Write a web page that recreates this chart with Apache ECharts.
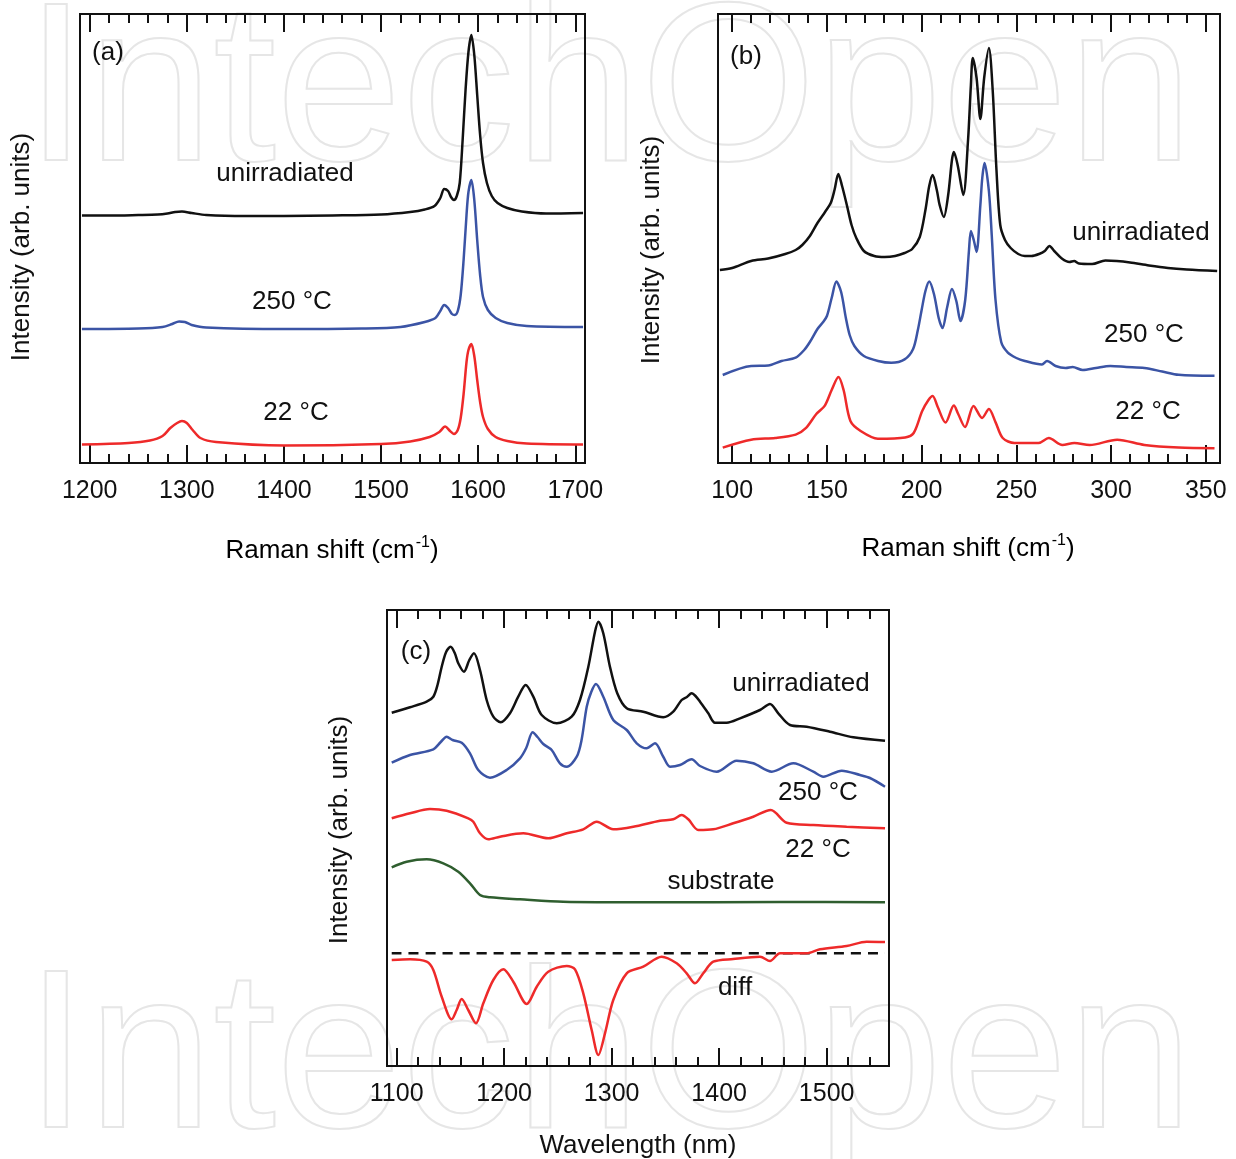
<!DOCTYPE html>
<html>
<head>
<meta charset="utf-8">
<script src="https://cdn.jsdelivr.net/npm/echarts@6/dist/echarts.min.js"></script>
<style>
  html, body { margin: 0; padding: 0; background: #fff; }
  #chart { width: 1236px; height: 1159px; }
</style>
</head>
<body>
<div id="chart"></div>
<script>
// panel (a): Raman shift 1190-1710 cm-1, intensity in arbitrary units
const aMajorTicks = [1200, 1300, 1400, 1500, 1600, 1700]
const aMinorTicks = [1200, 1220, 1240, 1260, 1280, 1300, 1320, 1340, 1360, 1380, 1400, 1420, 1440, 1460, 1480, 1500, 1520, 1540, 1560, 1580, 1600, 1620, 1640, 1660, 1680, 1700]
const aUnirradiated = [[1192, 247.5], [1220, 247.5], [1250, 248], [1270, 248.5], [1280, 249.5], [1288, 251], [1295, 251.5], [1305, 250], [1320, 248], [1360, 247], [1400, 247], [1450, 247.5], [1500, 248.5], [1530, 251], [1545, 253.5], [1555, 257], [1561, 265], [1565, 274], [1569, 272], [1572, 266], [1575, 263], [1578, 267], [1581, 280], [1584, 323], [1587, 373], [1590, 411], [1593, 428], [1596, 408], [1599, 368], [1602, 328], [1605, 300], [1609, 280], [1614, 267], [1620, 260], [1630, 255], [1645, 251.5], [1670, 249.5], [1708, 250]]
const a250C = [[1192, 134], [1250, 134.5], [1275, 136], [1285, 139], [1292, 141.5], [1298, 141], [1305, 138], [1320, 135.5], [1400, 134], [1480, 134.5], [1520, 136], [1545, 141], [1556, 145], [1561, 152], [1565, 158], [1569, 155], [1573, 149], [1576, 148], [1579, 152], [1582, 168], [1585, 203], [1588, 248], [1590, 271], [1593, 283], [1596, 263], [1599, 223], [1602, 188], [1605, 166], [1610, 153], [1618, 145], [1630, 140], [1650, 137], [1708, 136]]
const a22C = [[1192, 18.5], [1240, 20], [1262, 22.5], [1275, 27], [1283, 35], [1290, 40], [1295, 42], [1300, 40], [1306, 33], [1314, 25], [1330, 21], [1400, 17.5], [1500, 19], [1530, 21.5], [1550, 26], [1560, 31], [1566, 36.5], [1571, 32], [1575, 29], [1579, 33], [1582, 45], [1585, 69], [1588, 101], [1590, 113], [1593, 119], [1596, 107], [1599, 83], [1602, 61], [1605, 46], [1610, 34], [1618, 26], [1630, 22], [1650, 19.5], [1708, 18.5]]

// panel (b): Raman shift 92.5-357.5 cm-1
const bMajorTicks = [100, 150, 200, 250, 300, 350]
const bMinorTicks = [100, 110, 120, 130, 140, 150, 160, 170, 180, 190, 200, 210, 220, 230, 240, 250, 260, 270, 280, 290, 300, 310, 320, 330, 340, 350]
const bUnirradiated = [[93.5, 193], [100, 195], [110, 202], [119, 204.5], [128, 209], [133.5, 213], [137, 218], [141, 227], [145, 240], [149, 251], [152, 260], [154, 273], [156, 289], [158, 277], [160.5, 258], [163, 238], [165.5, 225], [169.5, 212], [175, 207], [180.5, 206], [186, 207], [191, 210], [195, 214], [199, 226], [202, 253], [204, 277], [205.8, 288], [208, 273], [209.5, 258], [211.7, 246], [214, 268], [216, 303], [217, 311], [219, 298], [222, 268], [224.5, 323], [226, 378], [227, 405], [229, 385], [231, 344], [233, 385], [235.5, 415], [237.5, 373], [239.5, 293], [241.5, 238], [244, 223], [247, 215], [251, 209], [254.5, 207], [258, 207], [262, 209], [265, 212], [267.5, 217], [270, 212], [274, 204.5], [278, 201], [280.5, 202], [283, 199.5], [290, 199], [297, 202.5], [303, 202], [310, 200.5], [320, 197.5], [330, 195], [340, 193.5], [356, 192]]
const b250C = [[95, 88], [110, 97], [119, 97.4], [126, 102], [133.5, 105.3], [138, 113], [141, 121], [145, 134], [148, 141], [150, 147], [152.5, 165], [155, 181.5], [157.5, 171], [160, 145], [162, 128], [164.5, 117], [169.5, 107], [177, 102], [184, 100.2], [191, 103.6], [195.5, 114], [198, 133], [200, 153], [202, 172], [204, 181.5], [206.5, 169], [209, 145], [211, 135], [213.5, 156], [216, 174], [218.3, 162], [220.5, 142], [223, 163], [225, 213], [226, 232], [227.5, 223], [229, 211], [231, 258], [232, 285], [233.2, 300], [235.5, 272], [237, 228], [239, 163], [242, 121], [245.5, 110.4], [250, 105], [254.5, 102], [263.5, 98.5], [266.2, 102], [270.7, 97], [276, 95], [279.7, 96], [285, 93], [292, 95], [299.6, 97], [308, 96], [317.6, 95], [327, 91.5], [335.7, 88.2], [354.6, 87.2]]
const b22C = [[95, 15.4], [110, 23.3], [122.7, 25], [133.5, 28.4], [139, 35.2], [144.4, 49], [148.9, 57.4], [152.5, 73], [156.1, 86], [158.8, 73], [162.4, 42], [167.8, 32], [176.9, 24.3], [191.3, 25.6], [195.8, 30], [200.3, 52], [203.6, 63], [205.8, 67], [208.5, 56], [212.6, 40.4], [217, 57.4], [219.3, 49], [222.9, 36], [227.4, 57], [231.9, 45], [235.5, 54], [239.1, 40.4], [242.8, 25], [249, 20], [261.7, 20], [267.1, 25], [274.3, 18], [280.6, 20], [288.7, 18], [303.2, 23.3], [317.6, 18], [335.7, 15.4], [354.6, 14.7]]

// panel (c): wavelength 1091-1558 nm
const cMajorTicks = [1100, 1200, 1300, 1400, 1500]
const cMinorTicks = [1100, 1120, 1140, 1160, 1180, 1200, 1220, 1240, 1260, 1280, 1300, 1320, 1340, 1360, 1380, 1400, 1420, 1440, 1460, 1480, 1500, 1520, 1540]
const cUnirradiated = [[1095.4, 353.3], [1112.4, 358.7], [1127.9, 364.3], [1134.1, 369.3], [1138, 381], [1141.9, 399.3], [1146, 414], [1150.2, 419.3], [1154, 413], [1157.3, 402.7], [1162.6, 394.3], [1167.6, 406], [1171.9, 412.7], [1177.5, 396], [1183.7, 366], [1189.9, 349.3], [1196.8, 343.7], [1205.4, 352.7], [1213.1, 369.3], [1220, 381], [1227.1, 369.3], [1234.9, 351], [1248.9, 342.7], [1262.8, 349.3], [1270.5, 366], [1278.3, 399.3], [1284.5, 434.3], [1287.6, 444.3], [1292.2, 432.7], [1298.4, 399.3], [1305.2, 372.7], [1314, 357.7], [1329.4, 354.3], [1348, 348.7], [1357.3, 354.3], [1365.1, 366], [1370, 369], [1374.4, 372.7], [1378, 370], [1382.2, 364.3], [1389.9, 352.7], [1396.1, 343.3], [1407, 343.3], [1419.4, 347.7], [1438, 356], [1447.3, 362], [1455, 352.7], [1465.9, 341], [1481.4, 339.3], [1503.1, 334.3], [1524.8, 328.7], [1554.3, 325.3]]
const c250C = [[1095.4, 303.3], [1112.4, 311], [1134.1, 316.7], [1141, 324], [1146.5, 329.3], [1152, 326], [1160.5, 323.3], [1168.2, 312.7], [1175.9, 296], [1186.8, 288.3], [1202.3, 296], [1214.7, 307.7], [1220.5, 318], [1226.5, 333.7], [1231, 329], [1236.4, 322], [1244.2, 316], [1251.9, 302.7], [1258.2, 299.3], [1267.5, 309.3], [1272, 326], [1276.8, 359.3], [1281, 374], [1285.4, 382], [1292.2, 369.3], [1301.5, 346], [1314, 336], [1323.3, 322.7], [1332.6, 317.7], [1340.3, 322.7], [1348, 309.3], [1354.3, 299.3], [1363.6, 301], [1374.4, 306.7], [1382.2, 300], [1397.7, 294.3], [1416.3, 305.3], [1431.7, 302.7], [1448.9, 294.3], [1469, 302.7], [1487.6, 294.3], [1496.9, 289.3], [1514, 295.3], [1531, 291], [1540.3, 288], [1554.3, 279.3]]
const c22C = [[1095.4, 247.7], [1112.4, 252.7], [1131, 257], [1146.5, 255.3], [1166.6, 247.7], [1171.3, 244.3], [1177.5, 232.7], [1185.2, 226.7], [1196.1, 229.3], [1217.8, 232.7], [1241, 227.7], [1258.2, 232.7], [1273.6, 236.7], [1286.1, 244.3], [1301.5, 236.7], [1320.1, 239.3], [1345, 245.3], [1357.3, 246.7], [1365.1, 251], [1371.3, 246.7], [1380.6, 236], [1394.5, 236.7], [1413.1, 242.7], [1431.7, 249.3], [1448, 256], [1462.8, 243.3], [1487.6, 241], [1518.6, 239.3], [1554.3, 237.7]]
const cSubstrate = [[1095.4, 198.7], [1109.3, 204.3], [1127.9, 206.7], [1143.4, 202.7], [1157.3, 194.3], [1168.2, 182.7], [1177.5, 171], [1186.8, 168.7], [1214.7, 166.7], [1255, 164.3], [1332.6, 163.7], [1456.6, 164], [1554.3, 163.7]]
const cDiff = [[1095.4, 106], [1112.4, 106.7], [1127.9, 104.3], [1134.1, 96], [1141.9, 69.3], [1151.2, 46.7], [1155.8, 56], [1160.5, 67], [1166.6, 56], [1173.8, 42.7], [1180.6, 62.7], [1189.9, 86], [1199.2, 96.7], [1208.5, 84.3], [1221, 62], [1230.3, 79.3], [1241, 94.3], [1258.2, 100], [1265.9, 96.7], [1273.6, 72.7], [1281.4, 36], [1287.6, 11], [1293.8, 32.7], [1301.5, 66], [1314, 92.7], [1329.4, 99.3], [1346.5, 109.3], [1360.5, 102.7], [1369.8, 92.7], [1377.5, 82.7], [1385.2, 92.7], [1394.5, 104.3], [1413.1, 107], [1438, 109.3], [1447.3, 105], [1456.6, 112.7], [1481.4, 112.7], [1493.8, 116.7], [1518.6, 120], [1537.2, 124.3], [1554.3, 124]]
const cZeroLine = [[1095.4, 112.7], [1554.3, 112.7]]

const BLACK = '#111111'
const BLUE = '#3b54a5'
const RED = '#ee2a2a'
const GREEN = '#2f5e2f'
const FONT = '"Liberation Sans", Arial, sans-serif'

const chart = echarts.init(document.getElementById('chart'), null, { renderer: 'canvas' })

const grids = [
  { left: 80, top: 14, width: 505, height: 449 },
  { left: 718, top: 14, width: 502, height: 449 },
  { left: 387, top: 610, width: 502, height: 456 }
]
const ranges = [[1190, 1710], [92.5, 357.5], [1091, 1558]]
const majors = [aMajorTicks, bMajorTicks, cMajorTicks]
const minors = [aMinorTicks, bMinorTicks, cMinorTicks]
const yMax = [449, 449, 456]

// four x axes per grid: bottom major (with labels), bottom minor, top major, top minor
const xAxes = []
grids.forEach((g, i) => {
  const base = {
    type: 'value',
    gridIndex: i,
    min: ranges[i][0],
    max: ranges[i][1],
    axisLine: { show: false },
    splitLine: { show: false }
  }
  const tick = (vals, len) => ({
    show: true,
    inside: true,
    length: len,
    customValues: vals,
    lineStyle: { color: BLACK, width: 2 }
  })
  xAxes.push({
    ...base,
    position: 'bottom',
    axisTick: tick(majors[i], 18),
    axisLabel: {
      show: true,
      customValues: majors[i],
      formatter: v => String(v),
      margin: 16,
      fontSize: 25,
      fontFamily: FONT,
      color: BLACK
    }
  })
  xAxes.push({ ...base, position: 'bottom', axisTick: tick(minors[i], 9), axisLabel: { show: false } })
  xAxes.push({ ...base, position: 'top', axisTick: tick(majors[i], 18), axisLabel: { show: false } })
  xAxes.push({ ...base, position: 'top', axisTick: tick(minors[i], 9), axisLabel: { show: false } })
})

const yAxes = grids.map((g, i) => ({
  type: 'value',
  gridIndex: i,
  min: 0,
  max: yMax[i],
  show: false
}))

const line = (name, data, color, gridIdx, extra) => ({
  name,
  type: 'line',
  xAxisIndex: gridIdx * 4,
  yAxisIndex: gridIdx,
  data,
  smooth: 0.3,
  showSymbol: false,
  symbol: 'none',
  silent: true,
  lineStyle: { color, width: 2.5, ...(extra || {}) },
  z: 5
})

const series = [
  line('a unirradiated', aUnirradiated, BLACK, 0),
  line('a 250', a250C, BLUE, 0),
  line('a 22', a22C, RED, 0),
  line('b unirradiated', bUnirradiated, BLACK, 1),
  line('b 250', b250C, BLUE, 1),
  line('b 22', b22C, RED, 1),
  line('c unirradiated', cUnirradiated, BLACK, 2),
  line('c 250', c250C, BLUE, 2),
  line('c 22', c22C, RED, 2),
  line('c substrate', cSubstrate, GREEN, 2),
  line('c zero', cZeroLine, BLACK, 2, { type: [10, 7], width: 2.5 }),
  line('c diff', cDiff, RED, 2)
]

const txt = (text, x, y, opts) => ({
  type: 'text',
  x,
  y,
  z: 10,
  rotation: (opts && opts.rotation) || 0,
  style: {
    text,
    font: `${(opts && opts.size) || 26}px ${FONT}`,
    fill: BLACK,
    align: 'center',
    verticalAlign: 'middle'
  }
})

const ramanTitle = (x, y) => ({
  type: 'text',
  x,
  y,
  z: 10,
  style: {
    text: '{m|Raman shift (cm}{s|-1}{m|)}',
    align: 'center',
    verticalAlign: 'middle',
    rich: {
      m: { fontSize: 26, fontFamily: FONT, color: BLACK, lineHeight: 40 },
      s: { fontSize: 16, fontFamily: FONT, color: BLACK, verticalAlign: 'top', lineHeight: 40, padding: [4, 0, 0, 1] }
    }
  }
})

// faint outlined publisher watermark behind the plots
const watermark = (y) => ({
  type: 'text',
  x: 609,
  y,
  z: -1,
  silent: true,
  style: {
    text: 'IntechOpen',
    font: `226px ${FONT}`,
    fill: 'none',
    stroke: '#e6e6e6',
    lineWidth: 2,
    align: 'center',
    verticalAlign: 'middle'
  }
})

const graphic = [
  watermark(98),
  watermark(1065),
  txt('(a)', 108, 53),
  txt('(b)', 746, 57),
  txt('(c)', 416, 652),
  txt('unirradiated', 285, 174),
  txt('250 °C', 292, 302),
  txt('22 °C', 296, 413),
  txt('unirradiated', 1141, 233),
  txt('250 °C', 1144, 335),
  txt('22 °C', 1148, 412),
  txt('unirradiated', 801, 684),
  txt('250 °C', 818, 793),
  txt('22 °C', 818, 850),
  txt('substrate', 721, 882),
  txt('diff', 735, 988),
  ramanTitle(332, 551),
  ramanTitle(968, 549),
  txt('Wavelength (nm)', 638, 1146),
  txt('Intensity (arb. units)', 22, 247, { rotation: Math.PI / 2 }),
  txt('Intensity (arb. units)', 652, 250, { rotation: Math.PI / 2 }),
  txt('Intensity (arb. units)', 340, 830, { rotation: Math.PI / 2 })
]

chart.setOption({
  animation: false,
  backgroundColor: '#ffffff',
  grid: grids.map(g => ({ ...g, show: true, borderColor: BLACK, borderWidth: 2, backgroundColor: 'transparent', containLabel: false })),
  xAxis: xAxes,
  yAxis: yAxes,
  series,
  graphic
})
</script>
</body>
</html>
